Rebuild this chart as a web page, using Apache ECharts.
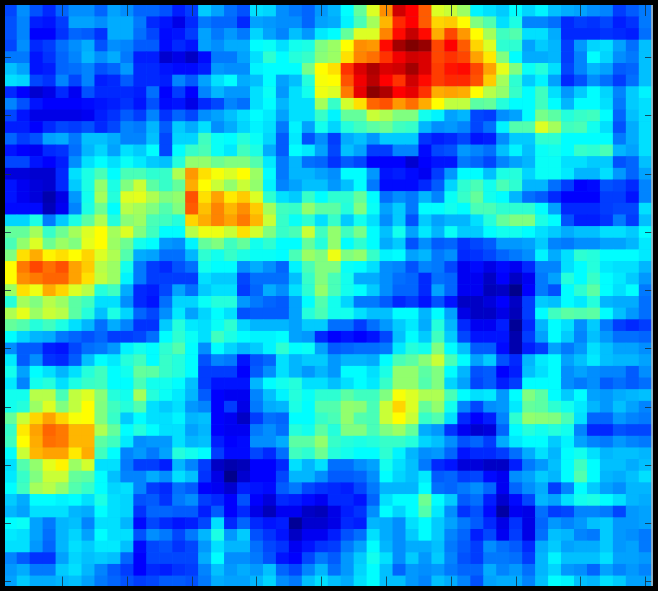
<!DOCTYPE html>
<html><head><meta charset="utf-8">
<style>html,body{margin:0;padding:0;background:#fff}#c{width:658px;height:591px}</style>
<script src="https://cdn.jsdelivr.net/npm/echarts@6/dist/echarts.min.js"></script>
</head><body><div id="c"></div>
<script>
// jet colour ramp knots: [position in 36ths, red, green, blue]
const jetKnots=[[0,0,0,128],[4,0,0,255],[13,0,255,255],[23,255,255,0],[32,255,0,0],[36,128,0,0]];
const tickEvery=5;
const rowsTopHalf=[
[18,25,19,15,21,25,25,21,27,25,21,21,19,14,17,31,27,22,19,33,32,25,23,21,26,29,36,47,60,75,93,89,80,60,58,53,35,33,31,36,32,35,30,28,27,25,24,17,20,23],
[19,24,14,13,17,27,27,25,28,28,23,15,13,9,15,23,21,21,15,27,26,25,25,21,27,28,35,44,54,71,85,89,80,68,69,64,50,45,33,39,24,24,22,15,17,16,18,14,16,23],
[19,24,11,11,16,21,20,16,28,28,22,18,12,13,17,27,23,26,23,32,27,24,30,26,34,36,47,60,60,76,88,94,88,72,82,74,64,54,43,45,33,33,28,15,15,15,16,15,14,22],
[18,25,15,17,22,25,28,19,25,24,20,20,12,15,13,27,25,28,28,36,37,33,38,39,50,53,64,75,74,88,97,100,98,82,89,80,68,60,41,41,27,31,29,17,26,32,33,27,22,30],
[23,23,13,16,21,24,29,25,28,23,14,14,7,9,6,12,23,23,27,33,41,36,40,42,51,53,67,76,78,84,90,93,92,82,84,82,73,66,50,36,28,28,29,17,24,36,32,25,23,30],
[30,27,13,14,21,22,24,19,21,26,15,15,13,12,12,14,26,25,25,35,36,36,36,49,64,67,84,92,96,92,93,97,92,83,87,88,82,73,61,50,37,40,33,18,24,29,27,20,21,30],
[33,32,18,16,24,18,24,14,15,20,15,15,14,24,20,27,33,36,28,30,36,27,30,40,63,64,81,90,95,89,84,93,88,83,85,85,81,69,54,41,31,35,27,15,19,25,22,17,22,30],
[15,11,7,9,15,10,19,15,15,15,14,22,11,17,11,24,29,26,26,33,37,26,33,38,62,60,77,91,99,96,89,91,84,72,73,72,64,56,52,42,36,43,33,26,31,36,32,24,31,35],
[24,19,13,11,11,11,12,13,14,16,13,19,12,13,9,15,18,24,22,33,36,29,33,33,54,42,59,67,79,81,74,78,72,64,57,57,46,47,40,36,36,43,36,29,36,36,33,23,31,33],
[18,13,9,9,9,9,10,14,16,20,17,24,16,21,18,25,27,30,33,36,34,27,33,33,42,35,47,47,58,55,50,50,38,35,27,29,18,17,25,27,36,49,46,40,42,43,36,21,30,33],
[14,14,11,15,18,17,19,15,18,24,23,29,20,31,28,33,25,28,32,35,33,23,35,27,38,32,40,43,46,48,43,42,29,25,26,24,18,22,35,45,45,60,54,43,44,38,33,19,28,33],
[21,17,19,27,28,23,30,30,28,24,24,30,18,32,32,43,37,36,40,37,32,20,34,19,25,17,28,30,26,31,31,31,16,14,15,18,13,14,25,31,31,41,41,36,36,36,36,23,28,33],
[13,11,10,15,16,22,29,32,27,33,31,36,18,36,42,44,37,34,43,39,28,20,36,34,27,18,30,27,17,17,24,24,12,18,19,26,24,22,30,35,30,37,38,36,42,41,44,29,27,33],
[18,18,13,11,14,25,33,36,33,37,34,31,30,40,52,52,48,50,50,45,34,23,29,22,21,16,20,18,11,11,11,7,11,13,13,23,21,18,24,27,29,37,37,33,33,31,31,19,21,30],
[8,8,7,7,15,33,39,44,36,44,44,41,42,55,74,67,63,60,64,53,36,23,29,29,27,25,36,36,26,13,14,12,10,17,26,36,36,30,39,40,32,37,37,34,29,29,33,26,21,27],
[13,10,8,7,15,31,39,52,39,50,58,46,42,47,72,64,58,52,58,52,35,24,27,30,30,26,30,36,23,12,12,12,15,20,32,41,44,38,44,41,29,29,22,17,11,12,19,18,15,24],
[13,10,8,4,9,26,38,54,40,60,61,55,50,52,81,67,73,66,69,60,41,33,31,42,36,41,41,47,36,22,25,23,29,24,37,42,47,38,36,29,22,20,15,11,11,11,17,17,13,24],
[12,12,12,5,10,24,39,48,36,56,54,50,45,50,80,70,76,71,75,69,54,43,42,52,46,46,40,50,37,27,31,23,36,36,38,36,44,44,41,41,41,36,27,15,15,15,17,18,18,33],
[32,32,39,23,31,39,46,55,40,51,53,44,43,40,68,72,76,73,77,71,58,42,37,41,33,42,31,38,33,25,31,19,31,27,29,29,33,40,47,50,50,39,36,19,14,14,16,23,17,30],
[47,47,54,42,48,54,60,64,54,60,50,43,36,36,56,62,62,58,67,59,50,42,44,58,43,52,43,49,36,30,38,27,34,29,37,31,31,36,38,38,36,33,31,28,30,30,33,33,31,36],
[44,52,60,48,53,50,61,64,53,48,38,36,26,25,35,47,50,43,47,38,41,36,36,47,40,52,36,41,36,28,31,19,25,20,21,16,18,20,26,26,27,31,24,23,25,25,27,27,29,34],
[50,67,72,65,67,64,68,60,55,45,28,27,22,22,29,41,38,42,39,37,37,36,44,53,50,62,50,52,42,35,36,27,29,23,25,15,16,18,21,23,25,35,28,33,41,40,36,36,36,34],
[64,77,82,78,81,73,69,56,53,38,23,17,15,19,22,38,36,36,25,28,25,21,35,44,50,50,37,36,33,25,24,19,24,23,18,10,12,9,12,10,15,24,24,33,36,40,34,33,33,29],
[64,75,77,79,79,73,67,57,53,35,23,17,17,17,17,33,31,31,18,22,22,22,30,42,50,44,38,28,28,25,22,21,15,22,21,10,10,6,11,6,10,23,27,40,36,42,36,34,31,26],
[53,67,62,72,68,60,56,40,43,28,15,14,18,27,22,31,33,33,17,21,28,25,33,41,52,44,38,36,31,25,21,21,15,27,21,10,10,5,6,1,11,23,19,36,41,46,36,33,36,23]
];
const rowsBottomHalf=[
[40,54,50,56,53,46,43,33,33,25,15,13,22,32,32,37,40,40,26,23,21,20,27,36,45,38,32,23,23,20,15,17,13,19,13,6,6,8,11,6,17,31,30,36,34,40,29,28,28,22],
[55,61,53,58,56,46,40,30,39,32,21,18,25,34,27,32,36,33,19,20,20,20,27,40,44,38,38,33,30,30,36,36,29,36,27,9,6,6,9,5,17,36,43,46,45,46,36,30,26,22],
[47,45,40,43,39,33,29,22,28,24,16,16,31,40,34,33,37,41,32,29,29,29,27,31,31,22,22,17,22,26,31,34,28,40,29,15,10,10,14,2,15,29,36,33,25,31,23,17,15,17],
[36,32,29,28,23,21,19,21,17,17,18,22,36,41,37,33,43,39,36,35,35,36,27,26,15,11,13,11,13,18,30,36,31,43,31,18,13,13,13,4,17,27,36,31,24,30,26,22,22,21],
[25,20,20,14,13,18,22,23,26,35,38,36,41,45,36,25,36,32,29,31,35,41,36,37,27,20,21,22,22,23,34,40,38,50,36,30,20,20,12,4,14,17,27,23,26,33,30,27,27,25],
[34,20,25,16,15,20,30,36,34,40,43,36,42,40,36,19,24,23,13,19,21,33,29,31,31,26,29,29,28,36,44,46,51,58,44,36,27,31,19,15,29,34,36,27,30,34,30,29,29,27],
[38,27,36,33,29,33,40,43,36,38,47,46,42,40,36,17,17,17,11,20,25,33,29,26,29,26,36,36,33,39,52,52,46,50,36,29,19,20,11,14,30,33,36,25,27,25,24,24,20,25],
[34,24,38,40,33,39,42,43,36,36,44,38,38,36,30,17,13,13,13,29,36,38,40,33,33,30,33,36,34,42,52,52,45,50,32,27,18,20,14,17,36,36,36,25,23,25,20,22,20,22],
[38,38,56,56,44,57,60,51,40,38,54,40,37,34,29,20,11,10,10,24,30,35,40,37,41,41,46,43,43,50,63,60,55,55,44,36,33,34,26,36,50,46,36,31,36,27,26,28,29,30],
[38,40,53,60,50,57,64,50,43,40,45,33,31,33,26,24,11,17,9,23,28,29,39,36,45,45,52,51,44,58,68,60,47,52,38,24,18,25,26,34,47,46,41,38,34,29,26,30,27,24],
[47,58,68,73,68,63,64,50,42,31,36,33,33,35,29,30,11,10,6,17,22,21,36,36,42,44,52,45,44,58,64,58,42,45,33,15,11,14,24,41,52,51,50,44,33,21,21,26,24,23],
[42,66,73,79,77,71,71,55,47,36,40,36,33,33,27,29,11,10,10,23,25,22,40,38,46,40,50,50,44,50,53,47,28,26,16,10,7,8,21,36,40,38,40,38,24,15,15,19,18,18],
[43,64,72,78,77,71,71,46,43,34,25,26,26,33,29,30,14,11,12,25,25,28,46,46,52,42,40,39,40,42,42,40,32,30,25,19,21,17,28,34,36,36,31,35,27,24,23,26,24,23],
[36,58,71,73,73,66,72,43,36,24,26,23,27,40,38,36,17,12,12,18,15,22,43,41,48,40,38,36,36,41,35,29,25,26,21,13,15,15,17,22,28,33,29,36,38,33,29,30,30,29],
[33,45,52,61,65,53,59,33,33,23,17,17,14,29,24,17,6,4,5,11,11,15,33,29,33,22,22,25,27,38,33,30,23,15,13,8,8,6,6,14,23,26,30,36,43,36,30,30,28,30],
[34,42,50,58,58,47,46,36,30,24,24,28,25,33,30,16,9,1,7,11,11,18,29,29,25,20,20,21,25,36,32,30,34,20,21,17,18,12,10,25,27,31,29,36,45,36,29,28,30,33],
[36,43,54,56,52,45,42,36,32,33,24,17,15,22,20,11,10,7,14,13,12,20,23,18,16,15,14,18,23,29,29,29,36,22,21,23,25,21,10,21,25,28,17,24,36,31,27,25,29,29],
[31,28,36,36,35,36,33,39,33,32,19,20,16,23,25,17,15,11,19,11,8,15,14,12,10,15,15,13,21,33,36,36,48,36,31,20,22,14,7,12,18,29,27,33,38,39,36,33,29,28],
[29,27,33,33,33,29,28,36,33,32,16,21,21,20,20,14,20,11,15,9,5,10,10,6,5,9,14,16,25,36,32,36,45,34,25,16,19,12,3,10,9,22,17,18,24,24,23,18,26,27],
[36,37,27,23,29,30,24,33,33,29,12,18,15,13,14,18,33,15,21,15,13,14,2,7,7,9,15,14,29,28,25,33,36,31,27,23,20,15,9,16,9,21,26,24,26,30,31,26,26,27],
[34,33,27,22,29,32,27,36,33,33,19,25,23,18,23,29,39,26,31,19,16,13,6,10,10,14,19,22,33,28,25,31,36,31,24,21,14,18,10,17,9,22,30,29,24,23,31,26,25,23],
[33,33,26,21,29,33,31,34,34,30,12,18,19,16,18,26,33,29,29,22,18,16,10,13,16,17,23,27,36,29,25,28,28,30,23,20,17,25,22,20,15,28,31,27,28,28,31,26,27,23],
[24,20,16,16,27,32,30,31,30,21,11,18,18,18,18,28,36,25,25,23,19,13,11,18,23,20,26,31,38,33,25,31,26,31,24,19,17,23,23,22,17,29,35,30,30,30,33,27,27,26],
[26,28,23,23,31,33,29,24,20,17,11,15,14,16,17,24,30,26,28,26,30,21,18,24,29,22,26,32,36,30,21,26,25,26,23,21,21,28,24,26,22,29,32,26,25,21,27,24,26,24],
[27,31,28,28,29,30,27,23,21,19,17,18,20,20,19,23,28,27,27,29,32,25,23,30,33,30,28,33,36,30,30,26,24,30,28,24,19,27,28,28,24,30,36,35,30,29,33,31,27,27]
];
const rows=rowsTopHalf.concat(rowsBottomHalf);
const jetPalette=[];
for(let k=0;k<jetKnots.length-1;k++){
  const a=jetKnots[k],b=jetKnots[k+1];
  for(let p=a[0];p<b[0]+(k===jetKnots.length-2?1:0);p++){
    const t=(p-a[0])/(b[0]-a[0]);
    jetPalette.push('rgb('+[1,2,3].map(i=>Math.round(a[i]+(b[i]-a[i])*t)).join(',')+')');
  }
}
const nCols=rows[0].length, nRows=rows.length;
const xCats=Array.from({length:nCols},(_,i)=>i+1);
const yCats=Array.from({length:nRows},(_,i)=>i+1);
const cells=[];
rows.forEach((r,y)=>r.forEach((v,x)=>cells.push([x,y,v])));
const tickAt=(i)=>(i+1)%tickEvery===0;
const tickStyle={color:'rgba(20,50,70,0.85)',width:1};
const xAxisBase=(position,len)=>({type:'category',data:xCats,position,z:10,boundaryGap:true,
  axisLine:{show:false},axisLabel:{show:false},splitLine:{show:false},
  axisTick:{show:true,inside:true,length:len,alignWithLabel:true,interval:tickAt,lineStyle:tickStyle}});
const yAxisBase=(position,len)=>({type:'category',data:yCats,position,inverse:true,z:10,boundaryGap:true,
  axisLine:{show:false},axisLabel:{show:false},splitLine:{show:false},
  axisTick:{show:true,inside:true,length:len,alignWithLabel:true,interval:tickAt,lineStyle:tickStyle}});
const chart=echarts.init(document.getElementById('c'),null,{renderer:'canvas'});
chart.setOption({
  animation:false,
  backgroundColor:'#00a0ff',
  grid:{left:4,top:5,width:648,height:582.5,containLabel:false},
  xAxis:[xAxisBase('bottom',11),xAxisBase('top',11)],
  yAxis:[yAxisBase('left',7),yAxisBase('right',7)],
  visualMap:{show:false,min:0,max:100,calculable:false,seriesIndex:0,inRange:{color:jetPalette}},
  series:[{type:'heatmap',data:cells,itemStyle:{borderWidth:0},emphasis:{disabled:true},progressive:0}],
  graphic:[
    {type:'rect',z:100,silent:true,shape:{x:2.5,y:2.5,width:653,height:586},style:{fill:'none',stroke:'#000',lineWidth:5}},
    {type:'line',z:100,silent:true,shape:{x1:652,y1:5,x2:652,y2:586},style:{stroke:'#b4b4b4',lineWidth:1.5}}
  ]
});
</script></body></html>
